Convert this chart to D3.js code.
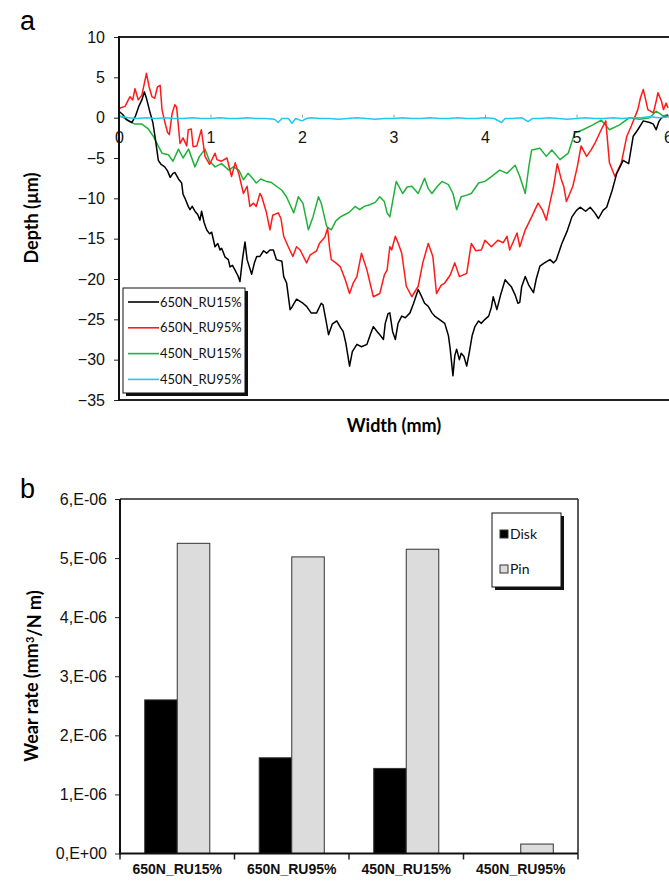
<!DOCTYPE html>
<html>
<head>
<meta charset="utf-8">
<script src="https://cdn.jsdelivr.net/npm/d3@7"></script>
<style>
  body { margin: 0; background: #fff; }
  svg { display: block; font-family: Lato, "Open Sans", sans-serif; }
</style>
</head>
<body>
<svg id="chart" width="669" height="884"></svg>
<script>
// ---- panel a: wear track profiles (width in mm, depth in µm) ----
var profileNames = ["650N_RU15%", "650N_RU95%", "450N_RU15%", "450N_RU95%"];
var profileColors = ["#000000", "#ff1a1a", "#1fb23a", "#22c8f0"];

var profile650_15 = [
  [0.0,0.8],[0.04,0.4],[0.08,-0.2],[0.14,-0.6],[0.18,0.2],[0.22,1.5],[0.25,2.2],[0.277,3.2],[0.30,2.4],[0.34,0.6],
  [0.37,-0.6],[0.393,-2.3],[0.43,-5.3],[0.46,-5.8],[0.50,-6.1],[0.53,-6.6],[0.56,-7.4],[0.59,-6.9],[0.612,-6.8],[0.65,-7.6],
  [0.685,-8.1],[0.70,-9.5],[0.721,-10.0],[0.757,-11.0],[0.776,-11.4],[0.80,-11.0],[0.83,-11.6],[0.86,-12.0],[0.885,-12.7],[0.903,-11.6],
  [0.93,-13.0],[0.958,-13.9],[0.99,-14.4],[1.013,-14.2],[1.049,-16.0],[1.08,-15.6],[1.104,-16.4],[1.122,-16.2],[1.16,-17.3],[1.195,-17.6],
  [1.213,-18.5],[1.24,-18.3],[1.268,-18.9],[1.30,-19.6],[1.322,-20.3],[1.35,-17.5],[1.377,-15.4],[1.40,-17.6],[1.45,-19.4],[1.48,-18.0],
  [1.505,-17.2],[1.54,-17.2],[1.58,-16.5],[1.614,-16.8],[1.65,-16.4],[1.687,-16.4],[1.72,-17.6],[1.78,-17.8],[1.80,-19.7],[1.832,-20.5],
  [1.87,-23.8],[1.89,-23.5],[1.94,-22.5],[2.01,-23.0],[2.05,-23.4],[2.10,-24.2],[2.16,-24.2],[2.21,-23.0],[2.23,-23.2],[2.26,-25.0],
  [2.29,-26.9],[2.33,-25.6],[2.38,-25.2],[2.42,-26.0],[2.45,-26.5],[2.48,-28.0],[2.52,-30.8],[2.55,-29.0],[2.60,-28.1],[2.65,-28.4],
  [2.71,-28.1],[2.75,-26.8],[2.78,-25.9],[2.82,-26.5],[2.85,-26.9],[2.89,-27.5],[2.91,-25.5],[2.94,-24.3],[2.96,-24.2],[2.99,-26.5],
  [3.02,-27.5],[3.05,-25.5],[3.09,-24.6],[3.13,-24.8],[3.18,-24.2],[3.22,-23.0],[3.27,-21.3],[3.30,-22.0],[3.34,-23.0],[3.38,-23.4],
  [3.42,-24.2],[3.45,-24.6],[3.50,-25.0],[3.56,-25.5],[3.60,-27.0],[3.62,-28.7],[3.65,-32.0],[3.67,-29.5],[3.69,-28.7],[3.72,-30.0],
  [3.74,-29.2],[3.77,-29.6],[3.80,-30.8],[3.83,-29.0],[3.86,-27.0],[3.89,-25.9],[3.93,-25.2],[3.96,-25.5],[4.00,-25.0],[4.04,-24.6],
  [4.07,-23.5],[4.09,-22.2],[4.13,-23.8],[4.17,-22.0],[4.22,-20.1],[4.25,-20.5],[4.29,-21.0],[4.33,-22.0],[4.36,-23.0],[4.38,-22.9],
  [4.40,-21.0],[4.44,-19.7],[4.48,-20.8],[4.53,-21.7],[4.56,-20.0],[4.60,-18.4],[4.65,-18.0],[4.71,-17.6],[4.75,-18.0],[4.78,-17.6],
  [4.84,-15.6],[4.90,-14.0],[4.95,-12.3],[5.00,-11.5],[5.04,-11.1],[5.10,-11.6],[5.15,-11.1],[5.20,-11.8],[5.24,-12.5],[5.29,-11.5],
  [5.33,-11.1],[5.39,-9.0],[5.44,-6.9],[5.48,-6.0],[5.51,-5.3],[5.57,-5.7],[5.62,-2.3],[5.67,-1.5],[5.73,-0.4],[5.80,-0.6],
  [5.84,-0.8],[5.87,-1.5],[5.90,-0.5],[5.93,0.0],[6.0,0.2]
];

var profile650_95 = [
  [0.0,1.0],[0.011,1.2],[0.066,1.4],[0.12,2.6],[0.15,2.2],[0.175,3.6],[0.21,2.2],[0.25,2.8],[0.30,5.5],[0.33,3.8],
  [0.36,2.6],[0.39,2.4],[0.42,3.8],[0.45,4.0],[0.47,1.0],[0.50,-0.5],[0.53,-1.8],[0.55,-2.1],[0.58,0.5],[0.61,1.6],
  [0.63,1.3],[0.667,-3.2],[0.70,-2.5],[0.74,-3.5],[0.757,-1.5],[0.79,-1.4],[0.81,-3.6],[0.85,-3.5],[0.90,-1.5],[0.94,-4.8],
  [0.99,-5.8],[1.05,-4.4],[1.07,-5.2],[1.12,-5.4],[1.18,-5.0],[1.23,-7.3],[1.27,-5.6],[1.31,-7.0],[1.36,-9.4],[1.40,-8.5],
  [1.43,-11.0],[1.47,-10.6],[1.50,-11.0],[1.54,-9.4],[1.56,-9.8],[1.61,-11.7],[1.65,-13.9],[1.68,-12.1],[1.74,-11.8],[1.77,-12.5],
  [1.80,-14.7],[1.85,-16.0],[1.90,-17.2],[1.94,-16.0],[1.98,-16.4],[2.05,-18.0],[2.09,-17.0],[2.12,-16.8],[2.16,-16.5],[2.19,-15.6],
  [2.25,-14.8],[2.28,-13.7],[2.30,-16.0],[2.32,-17.6],[2.37,-18.0],[2.42,-18.5],[2.47,-20.0],[2.52,-21.8],[2.56,-20.5],[2.60,-19.7],
  [2.65,-16.8],[2.71,-18.9],[2.75,-20.8],[2.78,-22.2],[2.85,-21.8],[2.90,-19.5],[2.93,-18.9],[2.96,-16.0],[2.98,-16.4],[3.02,-14.7],
  [3.05,-15.5],[3.09,-16.8],[3.14,-20.9],[3.20,-22.2],[3.27,-20.9],[3.32,-18.0],[3.38,-15.6],[3.43,-17.2],[3.47,-21.8],[3.52,-20.8],
  [3.56,-20.5],[3.62,-19.5],[3.67,-18.0],[3.72,-19.7],[3.80,-19.3],[3.85,-15.6],[3.90,-16.5],[3.96,-16.4],[4.00,-15.2],[4.07,-16.0],
  [4.14,-15.2],[4.20,-15.5],[4.24,-14.7],[4.27,-16.4],[4.35,-14.3],[4.38,-16.0],[4.44,-13.9],[4.51,-12.3],[4.58,-10.6],[4.63,-11.5],
  [4.67,-12.7],[4.72,-10.0],[4.75,-8.5],[4.79,-5.7],[4.83,-7.5],[4.86,-8.5],[4.89,-10.4],[4.96,-8.5],[5.01,-6.0],[5.05,-3.5],
  [5.11,-4.8],[5.16,-4.0],[5.20,-3.2],[5.27,-1.5],[5.32,-0.4],[5.36,-5.6],[5.42,-7.3],[5.49,-5.6],[5.55,-2.3],[5.60,-1.0],
  [5.67,1.0],[5.70,2.5],[5.73,3.5],[5.78,1.0],[5.84,0.6],[5.87,2.0],[5.89,3.1],[5.93,2.0],[5.95,1.0],[5.98,1.8],[6.0,1.2]
];

var profile450_15 = [
  [0.0,0.2],[0.05,0.0],[0.10,-0.4],[0.175,-0.8],[0.25,-0.8],[0.32,-1.4],[0.375,-2.3],[0.41,-3.1],[0.47,-4.4],[0.54,-4.6],
  [0.59,-5.4],[0.65,-3.9],[0.70,-5.0],[0.76,-3.9],[0.83,-6.1],[0.88,-4.8],[0.94,-3.9],[0.99,-5.4],[1.05,-6.1],[1.12,-5.7],
  [1.20,-6.5],[1.25,-6.1],[1.31,-6.5],[1.36,-7.7],[1.41,-6.9],[1.46,-7.5],[1.50,-8.1],[1.55,-7.6],[1.61,-7.9],[1.66,-8.0],
  [1.72,-8.5],[1.78,-9.0],[1.83,-9.8],[1.91,-11.8],[1.96,-9.8],[2.01,-10.6],[2.07,-13.9],[2.12,-12.3],[2.18,-9.8],[2.21,-10.6],
  [2.27,-13.5],[2.32,-13.9],[2.37,-12.8],[2.42,-12.3],[2.47,-12.0],[2.52,-11.7],[2.58,-11.0],[2.63,-11.4],[2.68,-11.0],[2.74,-10.8],
  [2.80,-10.5],[2.85,-9.8],[2.90,-10.4],[2.93,-11.8],[2.96,-12.3],[3.03,-7.9],[3.10,-9.4],[3.15,-8.6],[3.20,-8.5],[3.27,-9.4],
  [3.34,-7.5],[3.38,-8.8],[3.42,-9.4],[3.48,-8.5],[3.53,-7.9],[3.60,-8.3],[3.65,-9.4],[3.69,-11.4],[3.74,-9.8],[3.80,-9.6],
  [3.85,-9.4],[3.93,-8.1],[4.00,-7.9],[4.07,-7.3],[4.16,-6.5],[4.24,-6.9],[4.33,-5.9],[4.38,-7.3],[4.44,-9.4],[4.48,-6.0],
  [4.51,-4.0],[4.60,-3.8],[4.67,-4.8],[4.73,-4.0],[4.82,-5.2],[4.91,-4.4],[4.98,-1.9],[5.07,-1.5],[5.18,-0.9],[5.27,-0.3],
  [5.36,-1.5],[5.47,-0.9],[5.58,0.0],[5.69,-0.2],[5.80,0.0],[5.87,0.8],[5.95,0.2],[6.0,0.4]
];

var profile450_95 = [
  [0.0,0.2],[0.1,0.0],[0.2,-0.1],[0.3,0.0],[0.4,-0.1],[0.5,0.0],[0.6,-0.1],[0.7,-0.1],[0.8,0.0],[0.9,-0.1],
  [1.0,-0.1],[1.1,0.0],[1.2,-0.1],[1.3,-0.1],[1.4,0.0],[1.5,-0.1],[1.6,-0.1],[1.7,-0.2],[1.74,-0.6],[1.78,-0.1],
  [1.85,-0.1],[1.89,-0.7],[1.93,-0.1],[2.0,-0.4],[2.05,-0.1],[2.1,0.0],[2.2,-0.1],[2.3,-0.1],[2.4,-0.2],[2.5,-0.1],
  [2.6,0.0],[2.7,-0.1],[2.8,-0.2],[2.9,-0.1],[3.0,-0.1],[3.1,0.0],[3.2,-0.1],[3.3,-0.1],[3.4,0.0],[3.5,-0.1],
  [3.6,-0.1],[3.7,0.0],[3.8,-0.1],[3.9,-0.1],[4.0,0.0],[4.1,-0.1],[4.18,-0.6],[4.22,-0.1],[4.3,-0.1],[4.4,0.0],
  [4.47,-0.5],[4.52,-0.1],[4.6,-0.1],[4.7,0.0],[4.8,-0.1],[4.9,-0.2],[5.0,-0.1],[5.1,0.0],[5.2,-0.1],[5.3,-0.1],
  [5.4,0.0],[5.5,-0.1],[5.6,0.0],[5.7,0.0],[5.8,0.1],[5.9,0.0],[6.0,0.1]
];

var depthTicks = [10, 5, 0, -5, -10, -15, -20, -25, -30, -35];
var widthTicks = [0, 1, 2, 3, 4, 5, 6];

// ---- panel b: wear rates (mm3/N m) ----
var samples = ["650N_RU15%", "650N_RU95%", "450N_RU15%", "450N_RU95%"];
var parts = ["Disk", "Pin"];
var diskRate = [2.6e-6, 1.62e-6, 1.44e-6, 0];
var pinRate = [5.25e-6, 5.02e-6, 5.15e-6, 0.16e-6];
var partColors = ["#000000", "#dcdcdc"];
var wearTicks = [0, 1e-6, 2e-6, 3e-6, 4e-6, 5e-6, 6e-6];
var wearTickLabels = ["0,E+00", "1,E-06", "2,E-06", "3,E-06", "4,E-06", "5,E-06", "6,E-06"];

var svg = d3.select("#chart");

// =================== panel a ===================
var xA = d3.scaleLinear().domain([0, 6]).range([119, 668]);
var yA = d3.scaleLinear().domain([-35, 10]).range([400, 37]);

svg.append("text").attr("x", 20).attr("y", 30)
  .style("font-family", "Liberation Sans, Arial, sans-serif")
  .style("font-size", "27px").text("a");

var profiles = [profile650_15, profile650_95, profile450_15, profile450_95];
var line = d3.line().x(d => xA(d[0])).y(d => yA(d[1]));

// cyan ends up on top, as in the source figure
var drawOrder = [2, 1, 0, 3];
drawOrder.forEach(function (i) {
  svg.append("path")
    .datum(profiles[i])
    .attr("fill", "none")
    .attr("stroke", profileColors[i])
    .attr("stroke-width", 1.5)
    .attr("stroke-linejoin", "round")
    .attr("d", line);
});

// y axis
var yAxisA = svg.append("g")
  .attr("transform", "translate(119,0)")
  .call(d3.axisLeft(yA).tickValues(depthTicks).tickSize(5).tickPadding(9));
yAxisA.select(".domain").remove();
yAxisA.selectAll("line").attr("stroke", "#222");
yAxisA.selectAll("text").style("font-size", "16px").style("fill", "#111");

// x axis sitting on depth 0
var xAxisA = svg.append("g")
  .attr("transform", `translate(0,${yA(0)})`)
  .call(d3.axisBottom(xA).tickValues(widthTicks).tickFormat(d3.format("d")).tickSize(-3).tickPadding(14));
xAxisA.select(".domain").remove();
xAxisA.selectAll("line").attr("stroke", "#999");
xAxisA.selectAll("text").style("font-size", "16px").style("fill", "#111");

// frame
svg.append("line").attr("x1", 119).attr("x2", 669).attr("y1", 37).attr("y2", 37)
  .attr("stroke", "#222").attr("stroke-width", 2);
svg.append("line").attr("x1", 119).attr("x2", 669).attr("y1", 400).attr("y2", 400)
  .attr("stroke", "#222").attr("stroke-width", 2);
svg.append("line").attr("x1", 119).attr("x2", 119).attr("y1", 36).attr("y2", 401)
  .attr("stroke", "#111").attr("stroke-width", 2);

// axis titles
svg.append("text")
  .attr("transform", "translate(38,218) rotate(-90)")
  .attr("text-anchor", "middle")
  .style("font-size", "18px").style("font-weight", "bold")
  .text("Depth (µm)");
svg.append("text")
  .attr("x", 394).attr("y", 432)
  .attr("text-anchor", "middle")
  .style("font-size", "18px").style("font-weight", "bold")
  .text("Width (mm)");

// legend a
var legA = svg.append("g").attr("transform", "translate(123,288)");
legA.append("rect").attr("x", 3).attr("y", 3).attr("width", 122).attr("height", 105).attr("fill", "#111");
legA.append("rect").attr("x", 0).attr("y", 0).attr("width", 122).attr("height", 105)
  .attr("fill", "#fff").attr("stroke", "#111").attr("stroke-width", 1);
profileNames.forEach(function (name, i) {
  var g = legA.append("g").attr("transform", `translate(0,${14 + i * 25.8})`);
  g.append("line").attr("x1", 5).attr("x2", 36).attr("y1", 0).attr("y2", 0)
    .attr("stroke", profileColors[i]).attr("stroke-width", 1.6);
  g.append("text").attr("x", 37).attr("y", 0).attr("dy", "0.35em")
    .style("font-size", "13px").style("fill", "#111").text(name);
});

// =================== panel b ===================
var xB = d3.scaleBand().domain(samples).range([120, 578]);
var xPart = d3.scaleBand().domain(parts).range([0, xB.bandwidth()]).paddingInner(0).paddingOuter(0.76);
var yB = d3.scaleLinear().domain([0, 6e-6]).range([853.5, 499]);

svg.append("text").attr("x", 20).attr("y", 498)
  .style("font-family", "Liberation Sans, Arial, sans-serif")
  .style("font-size", "27px").text("b");

var rows = samples.map((s, i) => ({ sample: s, Disk: diskRate[i], Pin: pinRate[i] }));

var groups = svg.append("g").selectAll("g").data(rows).enter().append("g")
  .attr("transform", d => `translate(${xB(d.sample)},0)`);
groups.selectAll("rect")
  .data(d => parts.map((p, j) => ({ part: p, value: d[p], color: partColors[j] })).filter(d => d.value > 0))
  .enter().append("rect")
  .attr("x", d => xPart(d.part))
  .attr("y", d => yB(d.value))
  .attr("width", xPart.bandwidth())
  .attr("height", d => yB(0) - yB(d.value))
  .attr("fill", d => d.color)
  .attr("stroke", "#333")
  .attr("stroke-width", 1);

// y axis b
var yAxisB = svg.append("g")
  .attr("transform", "translate(120,0)")
  .call(d3.axisLeft(yB).tickValues(wearTicks).tickFormat((d, i) => wearTickLabels[i]).tickSize(5).tickPadding(8));
yAxisB.select(".domain").remove();
yAxisB.selectAll("line").attr("stroke", "#222");
yAxisB.selectAll("text").style("font-size", "16px").style("fill", "#111");

// x axis b
var xAxisB = svg.append("g")
  .attr("transform", `translate(0,${yB(0)})`)
  .call(d3.axisBottom(xB).tickSize(0).tickPadding(11));
xAxisB.select(".domain").remove();
xAxisB.selectAll("text").style("font-size", "14px").style("font-weight", "bold").style("fill", "#111");
// ticks on category boundaries
samples.concat(["end"]).forEach(function (s, i) {
  var xx = 120 + i * xB.step();
  svg.append("line").attr("x1", xx).attr("x2", xx).attr("y1", yB(0)).attr("y2", yB(0) + 6)
    .attr("stroke", "#222").attr("stroke-width", 1.5);
});

// frame b
svg.append("line").attr("x1", 120).attr("x2", 578).attr("y1", yB(6e-6)).attr("y2", yB(6e-6))
  .attr("stroke", "#222").attr("stroke-width", 1.5);
svg.append("line").attr("x1", 578).attr("x2", 578).attr("y1", yB(6e-6)).attr("y2", yB(0))
  .attr("stroke", "#222").attr("stroke-width", 1.5);
svg.append("line").attr("x1", 120).attr("x2", 578).attr("y1", yB(0)).attr("y2", yB(0))
  .attr("stroke", "#111").attr("stroke-width", 2);
svg.append("line").attr("x1", 120).attr("x2", 120).attr("y1", yB(6e-6)).attr("y2", yB(0) + 1)
  .attr("stroke", "#111").attr("stroke-width", 2);

// axis title b
var yTitle = svg.append("text")
  .attr("transform", "translate(38,676) rotate(-90)")
  .attr("text-anchor", "middle")
  .style("font-size", "18px").style("font-weight", "bold");
yTitle.append("tspan").text("Wear rate (mm");
yTitle.append("tspan").attr("dy", "-0.4em").style("font-size", "11px").text("3");
yTitle.append("tspan").attr("dy", "0.4em").text("/N m)");

// legend b
var legB = svg.append("g").attr("transform", "translate(492,513)");
legB.append("rect").attr("x", 3).attr("y", 3).attr("width", 69).attr("height", 74).attr("fill", "#111");
legB.append("rect").attr("x", 0).attr("y", 0).attr("width", 69).attr("height", 74)
  .attr("fill", "#fff").attr("stroke", "#111").attr("stroke-width", 1);
parts.forEach(function (p, i) {
  var g = legB.append("g").attr("transform", `translate(0,${21 + i * 35})`);
  g.append("rect").attr("x", 8).attr("y", -4).attr("width", 8).attr("height", 8)
    .attr("fill", partColors[i]).attr("stroke", "#333").attr("stroke-width", 1);
  g.append("text").attr("x", 18).attr("y", 0).attr("dy", "0.35em")
    .style("font-size", "14px").style("fill", "#111").text(p);
});
</script>
</body>
</html>
